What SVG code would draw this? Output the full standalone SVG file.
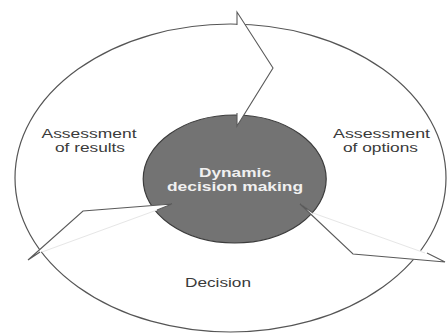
<svg xmlns="http://www.w3.org/2000/svg" width="447" height="333" viewBox="0 0 447 333">
<style>
.lbl{font-family:"Liberation Sans",Arial,sans-serif;font-size:12px;fill:#3a3a3a}
.ctr{font-family:"Liberation Sans",Arial,sans-serif;font-size:12px;font-weight:bold;fill:#f0f0f0}
.arr{fill:#fff;stroke:#5a5a5a;stroke-width:1.1;stroke-linejoin:miter}
.faint{stroke:#e6e6e6;stroke-width:1;fill:none}
</style>
<rect width="447" height="333" fill="#fff"/>
<g id="cycle">
<ellipse cx="230.5" cy="178" rx="215.5" ry="154" fill="none" stroke="#555" stroke-width="1.2"/>
</g>
<g id="center">
<ellipse cx="234.7" cy="179" rx="91.5" ry="64" fill="#737373" stroke="#3c3c3c" stroke-width="1.2"/>
<text class="ctr" x="235" y="177" text-anchor="middle" textLength="72" lengthAdjust="spacingAndGlyphs">Dynamic</text>
<text class="ctr" x="235" y="191" text-anchor="middle" textLength="136" lengthAdjust="spacingAndGlyphs">decision making</text>
</g>
<g id="connectors">
<polygon points="237,25 237,12 273,68 237,126 237,113" fill="#fff" stroke="none"/>
<polyline class="arr" points="237,25 237,12 273,68 237,126 237,113"/>
<polygon points="157,210 172,204 83,211 28,260 40,252" fill="#fff" stroke="none"/>
<polyline class="arr" points="157,210 172,204 83,211 28,260 40,252"/>
<line class="faint" x1="42" y1="252" x2="157" y2="210"/>
<polygon points="313,213 300,204 353,254 445,262 427,253" fill="#fff" stroke="none"/>
<polyline class="arr" points="313,213 300,204 353,254 445,262 427,253"/>
<line class="faint" x1="425" y1="253" x2="313" y2="213"/>
</g>
<g id="assessment-results">
<text class="lbl" x="89" y="138" text-anchor="middle" textLength="95" lengthAdjust="spacingAndGlyphs">Assessment</text>
<text class="lbl" x="90" y="152" text-anchor="middle" textLength="70" lengthAdjust="spacingAndGlyphs">of results</text>
</g>
<g id="assessment-options">
<text class="lbl" x="381.5" y="138" text-anchor="middle" textLength="97" lengthAdjust="spacingAndGlyphs">Assessment</text>
<text class="lbl" x="380.5" y="152" text-anchor="middle" textLength="75" lengthAdjust="spacingAndGlyphs">of options</text>
</g>
<g id="decision">
<text class="lbl" x="218" y="287" text-anchor="middle" textLength="66" lengthAdjust="spacingAndGlyphs">Decision</text>
</g>
</svg>
